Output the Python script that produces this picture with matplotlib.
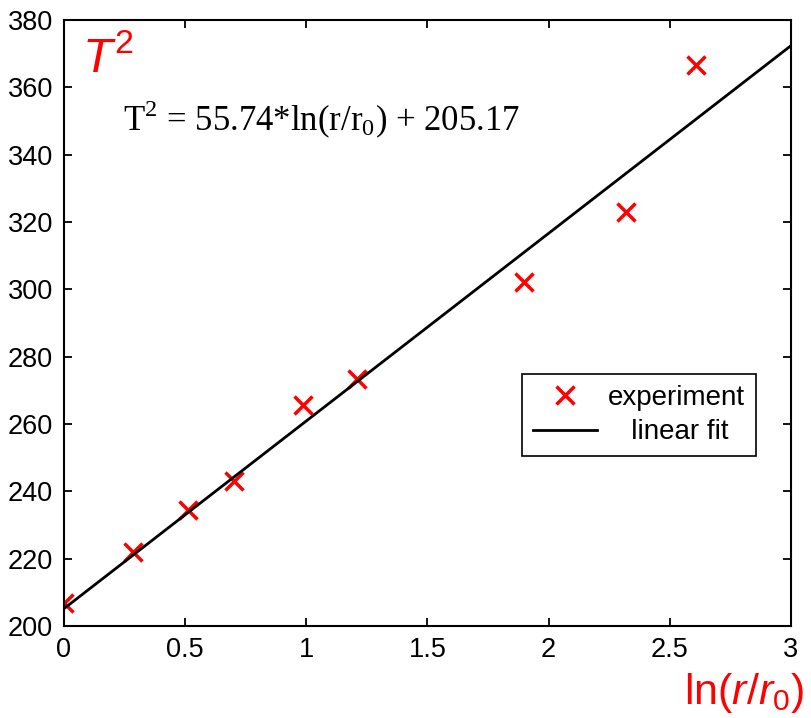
import numpy as np
import matplotlib.pyplot as plt

plt.rcParams['font.family'] = 'Liberation Sans'
plt.rcParams['mathtext.fontset'] = 'custom'
plt.rcParams['mathtext.rm'] = 'Liberation Serif'
plt.rcParams['mathtext.it'] = 'Liberation Sans:italic'
plt.rcParams['mathtext.sf'] = 'Liberation Sans'

# measured points: ln(r/r0) vs T^2
ln_ratio = [0.0, 0.285, 0.51, 0.70, 0.985, 1.21, 1.90, 2.32, 2.61]
t_squared = [206.8, 222.0, 234.5, 243.0, 265.8, 273.3, 302.3, 323.0, 366.6]

# linear fit coefficients
slope = 55.74
intercept = 205.17
fit_range = [0.0, 3.0]

x_ticks = [0, 0.5, 1, 1.5, 2, 2.5, 3]
x_tick_labels = ['0', '0.5', '1', '1.5', '2', '2.5', '3']
y_ticks = list(range(200, 381, 20))

fig = plt.figure(figsize=(8.11, 7.18), dpi=100)
ax = fig.add_axes([0.0789, 0.1281, 0.8964, 0.844])

fit_x = np.array(fit_range)
ax.plot(ln_ratio, t_squared, 'x', color='red', markersize=13, markeredgewidth=2.5,
        label='experiment')
ax.plot(fit_x, slope * fit_x + intercept, color='black', linewidth=2,
        label='   linear fit')

ax.set_xlim(0, 3)
ax.set_ylim(200, 380)
ax.set_xticks(x_ticks)
ax.set_xticklabels(x_tick_labels)
ax.set_yticks(y_ticks)
ax.tick_params(direction='in', top=True, right=True, length=6, width=1.3,
               labelsize=19.5, pad=8)
for sp in ax.spines.values():
    sp.set_linewidth(1.5)

ax.text(0.074, 364.5, r'$\mathit{T}^{\mathsf{2}}$', color='red', fontsize=35,
        va='baseline')
ax.text(0.243, 347.3, r'T$^{\mathrm{2}}$ = 55.74*ln(r/r$_{\mathrm{0}}$) + 205.17',
        family='Liberation Serif', fontsize=25, va='baseline')

fig.text(684 / 811, 1 - 704 / 718,
         r'ln($\mathit{r}$/$\mathit{r}_{\mathsf{0}}$)', color='red', fontsize=31,
         va='baseline')

leg = ax.legend(loc='upper left', bbox_to_anchor=(0.63, 0.416), borderaxespad=0,
                fancybox=False, edgecolor='black', fontsize=20, handlelength=2.3,
                handletextpad=0.4, borderpad=0.4, labelspacing=0.3)
leg.get_frame().set_linewidth(1.2)
leg.get_frame().set_alpha(1)

fig.savefig('out.png', dpi=100)
